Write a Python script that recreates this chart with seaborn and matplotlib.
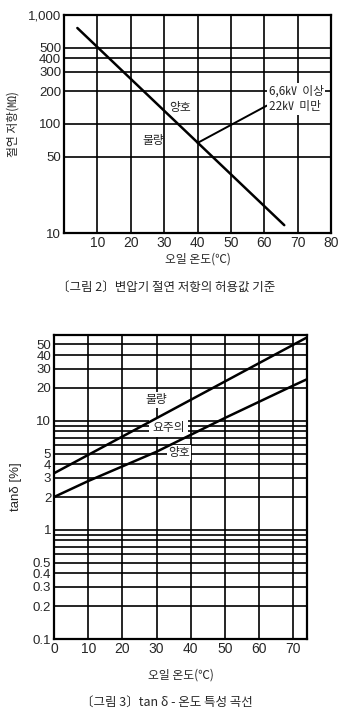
import numpy as np
import pandas as pd
import matplotlib
matplotlib.use("Agg")
import matplotlib.pyplot as plt
import seaborn as sns
from matplotlib.ticker import FixedLocator, NullFormatter

# ---------------- data ----------------
# Figure 2: allowable insulation resistance vs oil temperature
temp1 = [4, 66]
resist1 = [760, 11.8]
x1_ticks = [10, 20, 30, 40, 50, 60, 70, 80]
y1_ticks = [10, 50, 100, 200, 300, 400, 500, 1000]
y1_labels = ["10", "50", "100", "200", "300", "400", "500", "1,000"]

# Figure 3: tan delta vs oil temperature
temp_bad = [0, 74]
tan_bad = [3.3, 58]
temp_good = [0, 10, 30, 50, 70, 74]
tan_good = [2.0, 2.8, 5.2, 10.6, 21, 24]
x2_ticks = [0, 10, 20, 30, 40, 50, 60, 70]
y2_major = [0.1, 0.2, 0.3, 0.4, 0.5, 1, 2, 3, 4, 5, 10, 20, 30, 40, 50]
y2_labels = ["0.1", "0.2", "0.3", "0.4", "0.5", "1", "2", "3", "4", "5",
             "10", "20", "30", "40", "50"]
y2_minor = [0.6, 0.7, 0.8, 0.9, 6, 7, 8, 9]

sns.set_style("white")
plt.rcParams['font.family'] = ['Noto Sans CJK KR', 'DejaVu Sans']
NUMFONT = ['Liberation Sans', 'DejaVu Sans']

fig = plt.figure(figsize=(3.54, 7.18), dpi=100)

# ---------------- chart 1 ----------------
ax1 = fig.add_axes([64/354, 1-233/718, 267/354, 218/718])
df1 = pd.DataFrame({"temp": temp1, "res": resist1})
sns.lineplot(data=df1, x="temp", y="res", ax=ax1, color="black", lw=1.8, zorder=4)
ax1.set_yscale("log")
ax1.set_xlim(0, 80)
ax1.set_ylim(10, 1000)
ax1.set_xticks(x1_ticks)
ax1.set_xticklabels([str(v) for v in x1_ticks], family=NUMFONT, fontsize=10)
ax1.yaxis.set_major_locator(FixedLocator(y1_ticks))
ax1.set_yticklabels(y1_labels, family=NUMFONT, fontsize=9.5)
ax1.yaxis.set_minor_locator(FixedLocator([]))
ax1.tick_params(length=0, pad=2)
ax1.grid(True, which="major", color="black", lw=1.2)
for s in ax1.spines.values():
    s.set_linewidth(1.6)
    s.set_color("black")
ax1.set_xlabel("오일 온도(℃)", fontsize=8.5, labelpad=2)
ax1.set_ylabel("절연 저항(㏁)", fontsize=8.5, labelpad=6)
ax1.text(34.8, 143, "양호", fontsize=8.5, ha="center", va="center")
ax1.text(26.8, 71, "불량", fontsize=8.5, ha="center", va="center")
ax1.annotate("6,6㎸  이상\n22㎸  미만", xy=(40, 67), xytext=(61.3, 170),
             fontsize=8.5, ha="left", va="center", linespacing=1.3,
             bbox=dict(boxstyle="square,pad=0.15", fc="white", ec="none"),
             arrowprops=dict(arrowstyle="-", color="black", lw=1.4,
                             shrinkA=0, shrinkB=0, relpos=(0, 0.3)),
             zorder=5)
fig.text(166/354, 1-287/718, "〔그림 2〕변압기 절연 저항의 허용값 기준",
         ha="center", va="center", fontsize=9)

# ---------------- chart 2 ----------------
ax2 = fig.add_axes([54/354, 1-639/718, 253/354, 304/718])
df_bad = pd.DataFrame({"temp": temp_bad, "tan": tan_bad})
df_good = pd.DataFrame({"temp": temp_good, "tan": tan_good})
sns.lineplot(data=df_bad, x="temp", y="tan", ax=ax2, color="black", lw=1.8, zorder=4)
sns.lineplot(data=df_good, x="temp", y="tan", ax=ax2, color="black", lw=1.8, zorder=4)
ax2.set_yscale("log")
ax2.set_xlim(0, 74)
ax2.set_ylim(0.1, 61)
ax2.set_xticks(x2_ticks)
ax2.set_xticklabels([str(v) for v in x2_ticks], family=NUMFONT, fontsize=10)
ax2.yaxis.set_major_locator(FixedLocator(y2_major))
ax2.set_yticklabels(y2_labels, family=NUMFONT, fontsize=9.5)
ax2.yaxis.set_minor_locator(FixedLocator(y2_minor))
ax2.yaxis.set_minor_formatter(NullFormatter())
ax2.tick_params(which="both", length=0, pad=2)
ax2.grid(True, which="both", axis="y", color="black", lw=1.2)
ax2.grid(True, which="major", axis="x", color="black", lw=1.2)
for s in ax2.spines.values():
    s.set_linewidth(1.6)
    s.set_color("black")
ax2.set_xlabel("오일 온도(℃)", fontsize=8.5, labelpad=9)
ax2.set_ylabel("tanδ [%]", fontsize=9.5, labelpad=8,
               family=['Liberation Sans', 'DejaVu Sans'])
ax2.text(30, 15.5, "불량", fontsize=8.5, ha="center", va="center",
         bbox=dict(boxstyle="square,pad=0.1", fc="white", ec="none"), zorder=5)
ax2.text(33.5, 8.7, "요주의", fontsize=8.5, ha="center", va="center",
         bbox=dict(boxstyle="square,pad=0.3", fc="white", ec="none"), zorder=3)
ax2.text(36.5, 5.1, "양호", fontsize=8.5, ha="center", va="center",
         bbox=dict(boxstyle="square,pad=0.1", fc="white", ec="none"), zorder=3)
fig.text(167/354, 1-702/718, "〔그림 3〕tan δ - 온도 특성 곡선",
         ha="center", va="center", fontsize=9)

fig.savefig("out.png", dpi=100)
